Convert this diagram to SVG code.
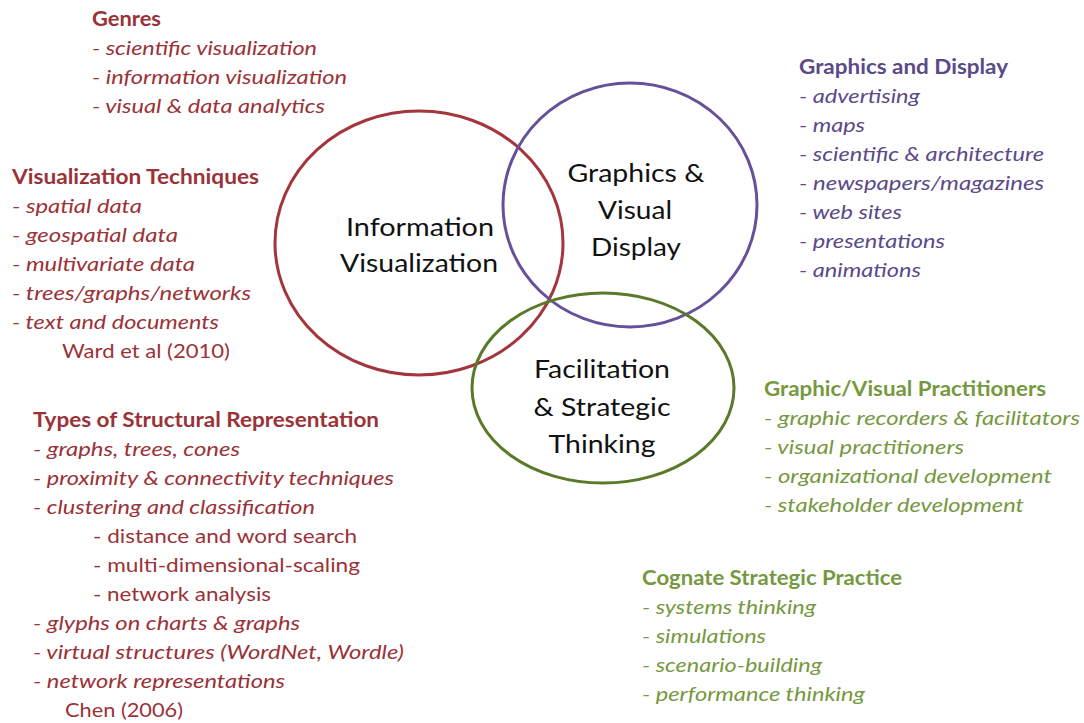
<svg xmlns="http://www.w3.org/2000/svg" width="1084" height="723" viewBox="0 0 1084 723">
  <style>
    text { font-family: "Lato", "Open Sans", "Liberation Sans", sans-serif; }
    .ring { fill: none; stroke-width: 3; }
    .label { font-size: 25px; fill: #111; text-anchor: middle; }
    .head { font-size: 20px; font-weight: bold; }
    .item { font-size: 20px; font-style: italic; }
    .plain { font-size: 20px; }
    .red { fill: #9a3238; }
    .purple { fill: #5a4a88; }
    .green { fill: #76983f; }
  </style>
  <rect width="1084" height="723" fill="#ffffff"/>

  <!-- three overlapping fields -->
  <g id="info-vis">
    <ellipse class="ring" cx="419" cy="243" rx="144" ry="132" stroke="#a3363d"/>
    <text class="label" x="420" y="236" textLength="148" lengthAdjust="spacingAndGlyphs">Information</text>
    <text class="label" x="419" y="272" textLength="158" lengthAdjust="spacingAndGlyphs">Visualization</text>
  </g>
  <g id="graphics-display">
    <ellipse class="ring" cx="630" cy="205" rx="127" ry="122" stroke="#66509a"/>
    <text class="label" x="636" y="182" textLength="137" lengthAdjust="spacingAndGlyphs">Graphics &amp;</text>
    <text class="label" x="635" y="219" textLength="74" lengthAdjust="spacingAndGlyphs">Visual</text>
    <text class="label" x="636" y="256" textLength="90" lengthAdjust="spacingAndGlyphs">Display</text>
  </g>
  <g id="facilitation">
    <ellipse class="ring" cx="603" cy="388" rx="131" ry="95" stroke="#5a7a2a"/>
    <text class="label" x="602" y="378" textLength="136" lengthAdjust="spacingAndGlyphs">Facilitation</text>
    <text class="label" x="602" y="416" textLength="137" lengthAdjust="spacingAndGlyphs">&amp; Strategic</text>
    <text class="label" x="602" y="453" textLength="107" lengthAdjust="spacingAndGlyphs">Thinking</text>
  </g>

  <!-- annotation lists -->
  <g id="genres" class="red">
    <text class="head" x="92" y="26" textLength="69" lengthAdjust="spacingAndGlyphs">Genres</text>
    <text class="item" x="92" y="55" textLength="225" lengthAdjust="spacingAndGlyphs">- scientific visualization</text>
    <text class="item" x="92" y="84" textLength="255" lengthAdjust="spacingAndGlyphs">- information visualization</text>
    <text class="item" x="92" y="113" textLength="233" lengthAdjust="spacingAndGlyphs">- visual &amp; data analytics</text>
  </g>

  <g id="vis-techniques" class="red">
    <text class="head" x="12" y="184" textLength="247" lengthAdjust="spacingAndGlyphs">Visualization Techniques</text>
    <text class="item" x="12" y="213" textLength="130" lengthAdjust="spacingAndGlyphs">- spatial data</text>
    <text class="item" x="12" y="242" textLength="166" lengthAdjust="spacingAndGlyphs">- geospatial data</text>
    <text class="item" x="12" y="271" textLength="183" lengthAdjust="spacingAndGlyphs">- multivariate data</text>
    <text class="item" x="12" y="300" textLength="239" lengthAdjust="spacingAndGlyphs">- trees/graphs/networks</text>
    <text class="item" x="12" y="329" textLength="207" lengthAdjust="spacingAndGlyphs">- text and documents</text>
    <text class="plain" x="62" y="358" textLength="168" lengthAdjust="spacingAndGlyphs">Ward et al (2010)</text>
  </g>

  <g id="structural-types" class="red">
    <text class="head" x="33" y="427" textLength="346" lengthAdjust="spacingAndGlyphs">Types of Structural Representation</text>
    <text class="item" x="33" y="456" textLength="207" lengthAdjust="spacingAndGlyphs">- graphs, trees, cones</text>
    <text class="item" x="33" y="485" textLength="361" lengthAdjust="spacingAndGlyphs">- proximity &amp; connectivity techniques</text>
    <text class="item" x="33" y="514" textLength="282" lengthAdjust="spacingAndGlyphs">- clustering and classification</text>
    <text class="plain" x="93" y="543" textLength="264" lengthAdjust="spacingAndGlyphs">- distance and word search</text>
    <text class="plain" x="93" y="572" textLength="267" lengthAdjust="spacingAndGlyphs">- multi-dimensional-scaling</text>
    <text class="plain" x="93" y="601" textLength="178" lengthAdjust="spacingAndGlyphs">- network analysis</text>
    <text class="item" x="33" y="630" textLength="267" lengthAdjust="spacingAndGlyphs">- glyphs on charts &amp; graphs</text>
    <text class="item" x="33" y="659" textLength="371" lengthAdjust="spacingAndGlyphs">- virtual structures (WordNet, Wordle)</text>
    <text class="item" x="33" y="688" textLength="252" lengthAdjust="spacingAndGlyphs">- network representations</text>
    <text class="plain" x="65" y="717" textLength="118" lengthAdjust="spacingAndGlyphs">Chen (2006)</text>
  </g>

  <g id="graphics-list" class="purple">
    <text class="head" x="799" y="74" textLength="209" lengthAdjust="spacingAndGlyphs">Graphics and Display</text>
    <text class="item" x="799" y="103" textLength="121" lengthAdjust="spacingAndGlyphs">- advertising</text>
    <text class="item" x="799" y="132" textLength="66" lengthAdjust="spacingAndGlyphs">- maps</text>
    <text class="item" x="799" y="161" textLength="245" lengthAdjust="spacingAndGlyphs">- scientific &amp; architecture</text>
    <text class="item" x="799" y="190" textLength="245" lengthAdjust="spacingAndGlyphs">- newspapers/magazines</text>
    <text class="item" x="799" y="219" textLength="103" lengthAdjust="spacingAndGlyphs">- web sites</text>
    <text class="item" x="799" y="248" textLength="146" lengthAdjust="spacingAndGlyphs">- presentations</text>
    <text class="item" x="799" y="277" textLength="122" lengthAdjust="spacingAndGlyphs">- animations</text>
  </g>

  <g id="practitioners" class="green">
    <text class="head" x="764" y="396" textLength="282" lengthAdjust="spacingAndGlyphs">Graphic/Visual Practitioners</text>
    <text class="item" x="764" y="425" textLength="316" lengthAdjust="spacingAndGlyphs">- graphic recorders &amp; facilitators</text>
    <text class="item" x="764" y="454" textLength="200" lengthAdjust="spacingAndGlyphs">- visual practitioners</text>
    <text class="item" x="764" y="483" textLength="288" lengthAdjust="spacingAndGlyphs">- organizational development</text>
    <text class="item" x="764" y="512" textLength="260" lengthAdjust="spacingAndGlyphs">- stakeholder development</text>
  </g>

  <g id="cognate-practice" class="green">
    <text class="head" x="642" y="585" textLength="260" lengthAdjust="spacingAndGlyphs">Cognate Strategic Practice</text>
    <text class="item" x="642" y="614" textLength="174" lengthAdjust="spacingAndGlyphs">- systems thinking</text>
    <text class="item" x="642" y="643" textLength="124" lengthAdjust="spacingAndGlyphs">- simulations</text>
    <text class="item" x="642" y="672" textLength="180" lengthAdjust="spacingAndGlyphs">- scenario-building</text>
    <text class="item" x="642" y="701" textLength="223" lengthAdjust="spacingAndGlyphs">- performance thinking</text>
  </g>
</svg>
